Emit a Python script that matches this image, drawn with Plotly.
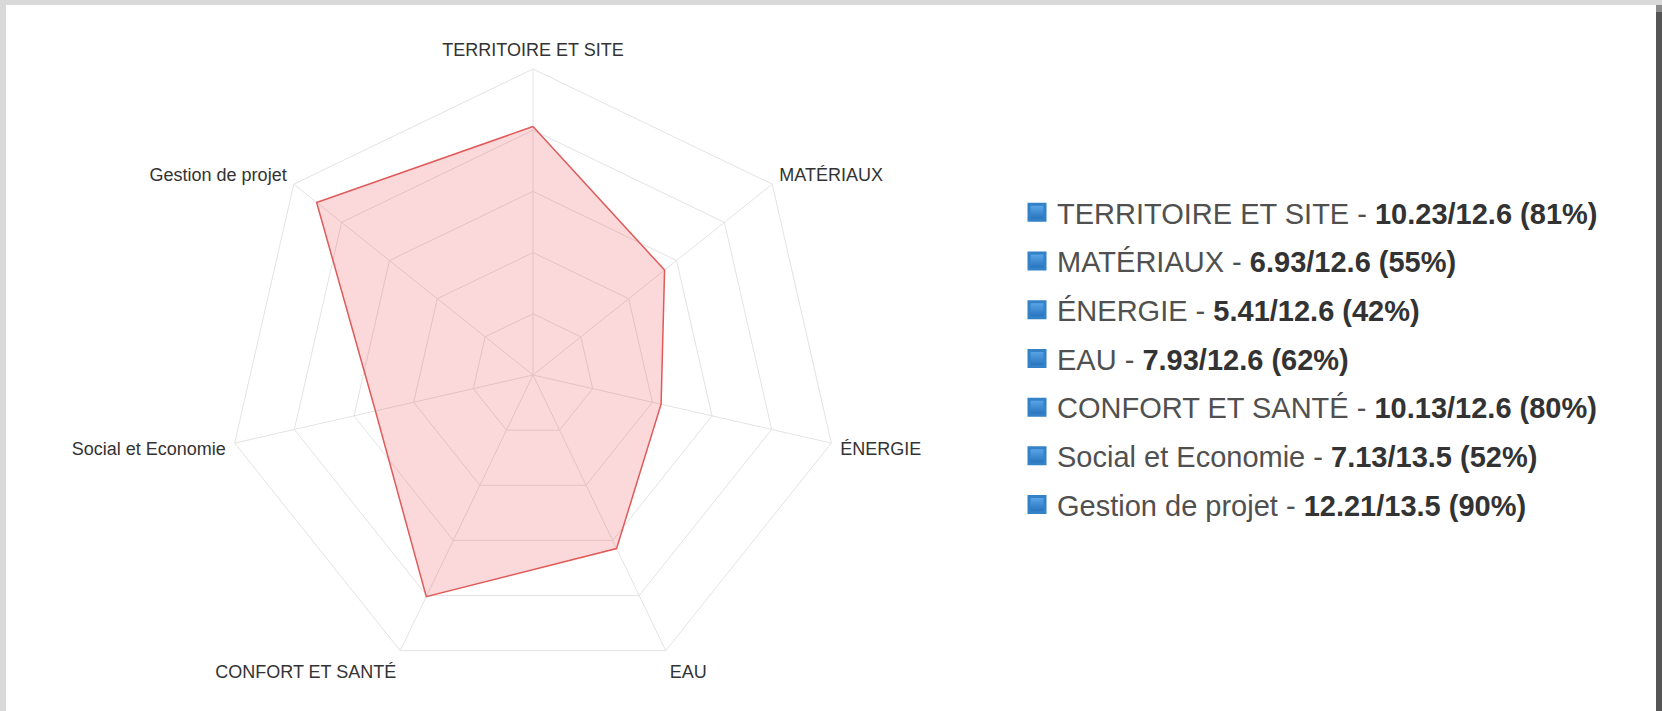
import plotly.graph_objects as go

# ---------------- data ----------------
categories = ["TERRITOIRE ET SITE", "MATÉRIAUX", "ÉNERGIE", "EAU",
              "CONFORT ET SANTÉ", "Social et Economie", "Gestion de projet"]
scores = [10.23, 6.93, 5.41, 7.93, 10.13, 7.13, 12.21]
max_scores = [12.6, 12.6, 12.6, 12.6, 12.6, 13.5, 13.5]
percent_labels = [81, 55, 42, 62, 80, 52, 90]
radial_gridvals = [20, 40, 60, 80]

# ---------------- layout constants ----------------
W, H = 1662, 711
cx, cy, R = 533, 375, 306

r_vals = [s / m * 100 for s, m in zip(scores, max_scores)]

fig = go.Figure()

fig.add_trace(go.Scatterpolar(
    r=r_vals + [r_vals[0]],
    theta=categories + [categories[0]],
    mode="lines",
    fill="toself",
    fillcolor="rgba(235,60,70,0.2)",
    line=dict(color="#e05a5a", width=1.5),
    showlegend=False,
    hoverinfo="skip",
))

for cat, s, m, p in zip(categories, scores, max_scores, percent_labels):
    fig.add_trace(go.Scatterpolar(
        r=[None], theta=[cat], mode="markers",
        marker=dict(symbol="square", size=20, color="#5fa9ea",
                    gradient=dict(type="vertical", color="#2270bb"),
                    line=dict(color="#3382c8", width=3)),
        name=f"{cat} - <b><span style='color:#333333'>{s}/{m} ({p}%)</span></b>",
        legendgroup=cat,
        showlegend=True,
        hoverinfo="skip",
    ))

grid_col = "#e3e3e3"
fig.update_layout(
    width=W, height=H,
    margin=dict(l=0, r=0, t=0, b=0),
    paper_bgcolor="white",
    font=dict(family="Liberation Sans, Arial, sans-serif"),
    polar=dict(
        domain=dict(x=[(cx - R) / W, (cx + R) / W],
                    y=[(H - cy - R) / H, (H - cy + R) / H]),
        gridshape="linear",
        bgcolor="white",
        radialaxis=dict(range=[0, 100], tickvals=radial_gridvals,
                        showticklabels=False, ticks="", showline=False,
                        gridcolor=grid_col, gridwidth=1),
        angularaxis=dict(direction="clockwise", rotation=90,
                         gridcolor=grid_col, linecolor=grid_col, showline=True,
                         ticks="outside", ticklen=5, tickcolor="rgba(0,0,0,0)",
                         tickfont=dict(size=18, color="#333333")),
    ),
    legend=dict(x=1017 / W, y=1 - 187 / H, xanchor="left", yanchor="top",
                font=dict(size=29, color="#505050"),
                tracegroupgap=8, bgcolor="rgba(0,0,0,0)",
                traceorder="grouped", itemsizing="trace"),
    shapes=[
        dict(type="rect", xref="paper", yref="paper", x0=0, x1=1,
             y0=1 - 5 / H, y1=1, fillcolor="#d9d9d9", line=dict(width=0), layer="above"),
        dict(type="rect", xref="paper", yref="paper", x0=0, x1=6 / W,
             y0=0, y1=1, fillcolor="#d9d9d9", line=dict(width=0), layer="above"),
        dict(type="rect", xref="paper", yref="paper", x0=1656 / W, x1=1,
             y0=0, y1=1 - 12 / H, fillcolor="#555555", line=dict(width=0), layer="above"),
        dict(type="rect", xref="paper", yref="paper", x0=1656 / W, x1=1,
             y0=1 - 12 / H, y1=1 - 5 / H, fillcolor="#8c8c8c", line=dict(width=0), layer="above"),
    ],
)

fig.write_html("out.html", config={"displayModeBar": False},
               post_script="document.body.style.margin='0';document.body.style.overflow='hidden';")
